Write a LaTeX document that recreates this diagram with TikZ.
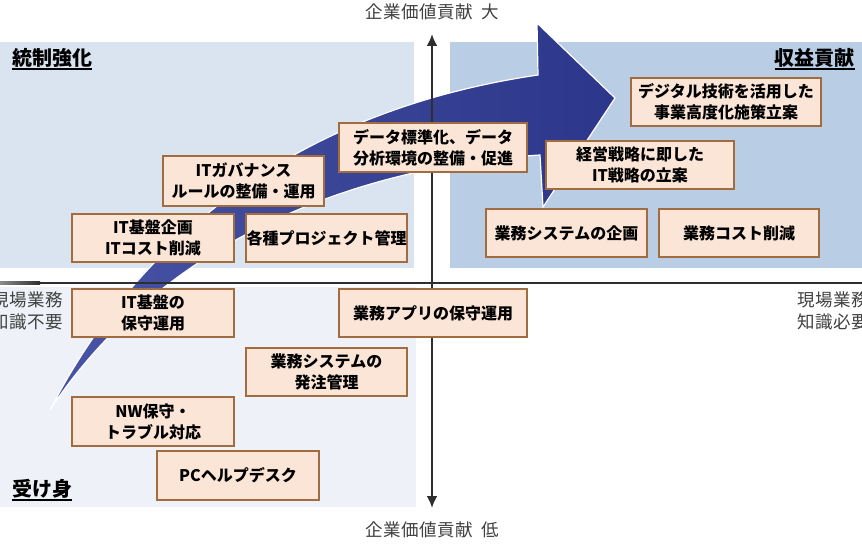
\documentclass[tikz,border=0pt]{standalone}
\usepackage{fontspec}
\setmainfont{Noto Sans CJK JP}
\newfontfamily\labfont[LetterSpace=3]{Noto Sans CJK JP}
\usetikzlibrary{arrows.meta}
\definecolor{pTL}{HTML}{DAE3F0}
\definecolor{pTR}{HTML}{B9CDE5}
\definecolor{pBL}{HTML}{EEF2F8}
\definecolor{bxfill}{HTML}{FBE5D6}
\definecolor{bxline}{HTML}{A06C40}
\definecolor{axiscol}{HTML}{2E2E2E}
\definecolor{labgray}{HTML}{404040}
\definecolor{arrL}{HTML}{4854A5}
\definecolor{arrR}{HTML}{2C368A}
\begin{document}
\begin{tikzpicture}[x=1pt,y=-1pt,
  qbox/.style={draw=bxline, line width=2.5pt, fill=bxfill, inner sep=0pt, align=center,
    font=\bfseries\fontsize{16}{21}\selectfont, text=black},
  axlab/.style={font=\labfont\fontsize{17.5}{22}\selectfont, text=labgray, inner sep=0pt},
  qtitle/.style={font=\bfseries\fontsize{20}{22}\selectfont, inner sep=0pt, text=black},
  uline/.style={line width=1.3pt, black},
  axisline/.style={draw=axiscol, line width=2.8pt}]
\clip (0,0) rectangle (862,548);
\fill[white] (0,0) rectangle (862,548);
% quadrant panels
\fill[pTL] (0,42) rectangle (414,268);
\fill[pTR] (450,42) rectangle (862,268);
\fill[pBL] (0,287) rectangle (416,507);
% big curved arrow
\path[left color=arrL, right color=arrR, draw=white, line width=1.2pt]
  (50,410) .. controls (140,235) and (300,110) .. (538,75)
  -- (537,23) -- (615,98) -- (543,207) -- (540,155)
  .. controls (330,168) and (150,258) .. (50,410) -- cycle;
% axes
\coordinate (vtop) at (432,34);
\coordinate (vbot) at (432,508);
\coordinate (hl) at (40,283);
\coordinate (hr) at (862,283);
\shade[left color=axiscol!55, right color=axiscol] (0,281.6) rectangle (40,284.4);
\draw[axisline] (hl) -- (hr);
\draw[axisline, {Latex[length=12pt,width=11pt]}-{Latex[length=12pt,width=11pt]}] (vbot) -- (vtop);
% axis labels
\node[axlab, anchor=base] (ltop) at (432,18.6) {企業価値貢献\hspace{0.5em}大};
\node[axlab, anchor=base] (lbot) at (432,536) {企業価値貢献\hspace{0.5em}低};
\node[axlab, anchor=east, align=right] (lleft) at (63,311) {現場業務\\知識不要};
\node[axlab, anchor=west, align=left] (lright) at (797,311) {現場業務\\知識必要};
% quadrant titles
\node[qtitle, anchor=base west] (qa) at (12,65.5) {統制強化};
\node[qtitle, anchor=base east] (qb) at (855,65.5) {収益貢献};
\node[qtitle, anchor=base west] (qc) at (12,496.5) {受け身};
\draw[uline] ([yshift=-3.5pt]qa.base west) -- ([yshift=-3.5pt]qa.base east);
\draw[uline] ([yshift=-3.5pt]qb.base west) -- ([yshift=-3.5pt]qb.base east);
\draw[uline] ([yshift=-3.5pt]qc.base west) -- ([yshift=-3.5pt]qc.base east);
% boxes
\node[qbox, minimum width=161, minimum height=50] (b1) at (243.5,181) {ITガバナンス\\ルールの整備・運用};
\node[qbox, minimum width=162, minimum height=48] (b2) at (153,238) {IT基盤企画\\ITコスト削減};
\node[qbox, minimum width=161, minimum height=48] (b3) at (326.5,238) {各種プロジェクト管理};
\node[qbox, minimum width=188, minimum height=49] (b4) at (433,147.5) {データ標準化、データ\\分析環境の整備・促進};
\node[qbox, minimum width=190, minimum height=48] (b5) at (726,102) {デジタル技術を活用した\\事業高度化施策立案};
\node[qbox, minimum width=188, minimum height=48] (b6) at (640,165) {経営戦略に即した\\IT戦略の立案};
\node[qbox, minimum width=161, minimum height=48] (b7) at (566.5,233) {業務システムの企画};
\node[qbox, minimum width=160, minimum height=48] (b8) at (739,233) {業務コスト削減};
\node[qbox, minimum width=162, minimum height=48] (b9) at (153,313) {IT基盤の\\保守運用};
\node[qbox, minimum width=188, minimum height=48] (b10) at (433,313) {業務アプリの保守運用};
\node[qbox, minimum width=161, minimum height=48] (b11) at (326.5,372) {業務システムの\\発注管理};
\node[qbox, minimum width=162, minimum height=49] (b12) at (153,421.5) {NW保守・\\トラブル対応};
\node[qbox, minimum width=162, minimum height=49] (b13) at (238,475.5) {PCヘルプデスク};
\end{tikzpicture}
\end{document}
